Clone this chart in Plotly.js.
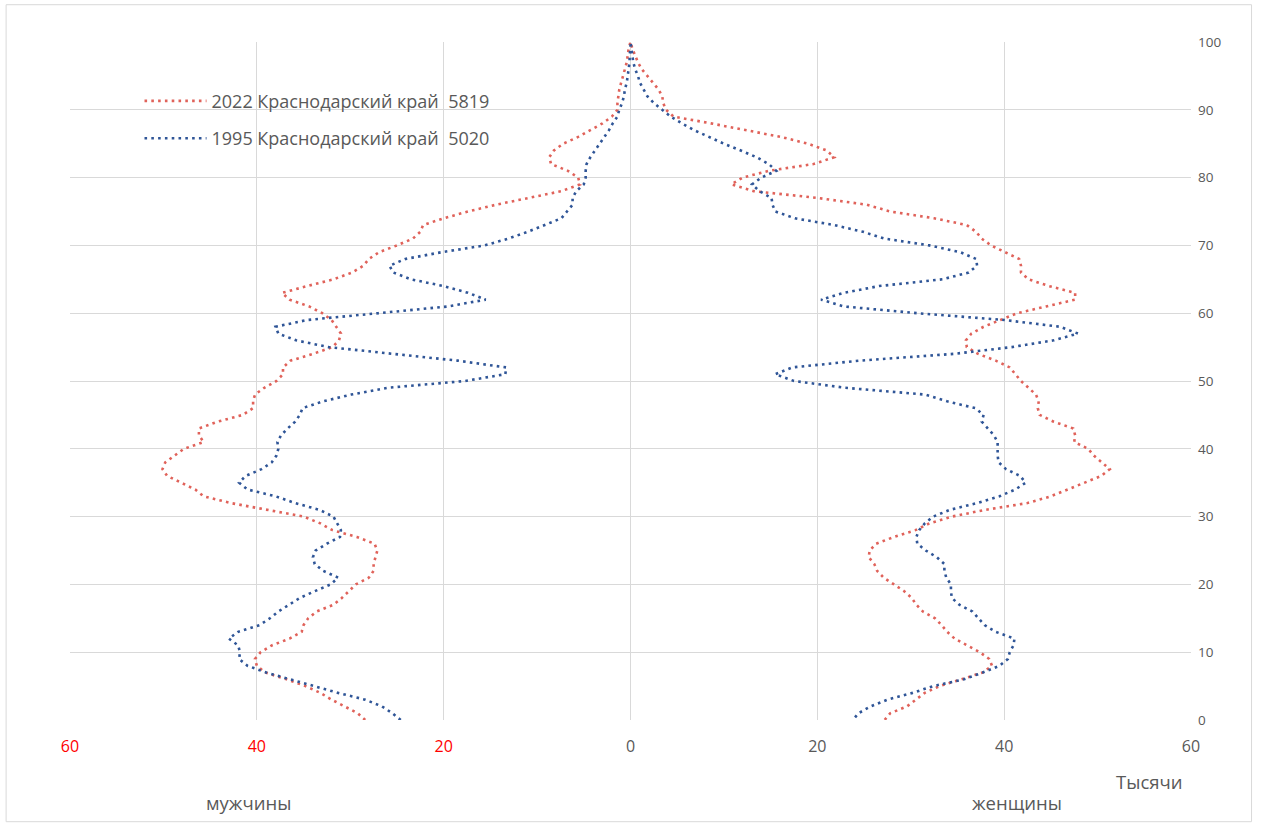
<!DOCTYPE html>
<html>
<head>
<meta charset="utf-8">
<script src="https://cdn.plot.ly/plotly-3.0.1.min.js"></script>
<style>
  html, body { margin: 0; padding: 0; background: #ffffff; }
  #chart { width: 1266px; height: 827px; }
</style>
</head>
<body>
<div id="chart"></div>
<script>
// Ages 0..100
const ages = [];
for (let a = 0; a <= 100; a++) ages.push(a);

// Population, thousands
const male2022 = [28.4,29.2,30.6,32.0,33.2,34.8,36.8,39.1,40.0,40.2,
  39.6,38.4,36.5,35.2,35.0,34.5,33.6,31.8,30.9,30.1,
  29.4,28.0,27.5,27.5,27.3,27.1,27.4,29.3,31.9,33.2,
  35.0,38.7,42.8,45.7,46.6,48.1,49.6,50.1,49.8,48.8,
  47.8,45.7,46.2,46.2,44.2,41.5,40.4,40.4,40.2,39.2,
  37.9,37.2,37.2,36.4,34.0,31.9,31.2,31.0,31.5,32.0,
  33.0,34.4,36.5,37.3,34.6,31.8,29.8,28.6,28.0,26.9,
  25.0,23.3,22.5,22.2,20.0,17.4,14.4,10.9,7.4,5.4,
  5.6,6.7,8.5,8.7,8.2,7.2,5.6,4.3,3.0,2.0,
  1.4,1.4,1.3,1.2,1.0,0.8,0.6,0.4,0.3,0.2,0.0];

const female2022 = [27.2,27.8,29.6,30.5,31.5,33.1,35.5,37.7,38.7,38.4,
  37.4,36.1,34.7,33.9,33.3,32.6,31.3,30.6,30.1,29.3,
  28.2,27.1,26.4,26.1,25.5,25.6,26.3,28.2,30.5,32.0,
  34.4,38.0,42.5,45.0,46.8,48.6,50.4,51.3,50.5,49.6,
  49.0,47.5,47.6,47.4,45.3,43.8,43.6,43.7,43.4,42.6,
  41.8,41.2,40.6,39.1,37.2,36.0,35.9,36.5,37.8,39.6,
  41.4,44.5,47.6,47.6,44.8,42.6,41.8,41.8,41.6,40.1,
  38.6,37.6,37.0,36.0,32.5,27.8,25.3,20.0,13.2,10.8,
  12.0,14.8,19.6,21.8,21.0,19.0,16.1,12.5,8.6,4.6,
  3.8,3.5,3.4,3.0,2.4,1.8,1.2,0.8,0.5,0.2,0.0];

const male1995 = [24.6,25.5,26.6,28.4,31.3,33.8,36.4,39.0,41.0,41.9,
  41.8,42.0,43.0,42.0,39.7,38.6,37.7,36.6,35.4,33.8,
  32.1,31.3,32.9,33.8,34.0,33.7,32.5,31.1,31.0,31.4,
  31.8,33.3,35.9,38.0,41.0,41.9,41.2,39.5,38.4,37.9,
  37.7,37.8,37.4,36.7,35.9,35.4,35.1,32.9,29.9,26.0,
  17.7,13.4,13.3,18.5,25.8,32.3,35.8,37.7,38.0,34.6,
  27.0,19.5,15.5,17.4,20.0,23.5,25.4,25.8,24.1,20.2,
  15.6,13.1,11.0,9.1,7.4,6.8,6.2,6.2,5.8,5.0,
  4.8,4.8,4.7,4.3,3.8,3.3,2.8,2.3,1.9,1.4,
  1.2,0.9,0.7,0.6,0.4,0.3,0.2,0.1,0.1,0.0,0.0];

const female1995 = [23.8,24.4,25.7,27.5,30.2,32.4,35.7,37.7,39.5,40.4,
  40.6,41.0,41.1,39.1,37.9,37.3,36.6,35.2,34.4,34.3,
  34.3,33.8,33.6,33.6,32.8,31.6,30.7,30.6,30.9,31.5,
  32.4,34.2,37.1,39.5,41.2,42.3,41.7,40.2,39.4,39.3,
  39.3,39.3,38.9,38.3,37.6,37.8,36.9,33.9,31.5,23.0,
  17.5,15.5,17.3,24.5,34.6,40.8,45.3,47.9,46.0,40.0,
  30.7,22.8,20.4,22.8,26.6,33.4,36.2,37.1,37.0,35.3,
  32.0,27.2,24.9,21.8,17.6,15.5,15.2,15.1,13.8,13.0,
  14.0,15.6,14.8,13.5,11.8,10.0,8.4,6.8,5.5,4.3,
  3.4,2.5,1.8,1.4,1.0,0.8,0.5,0.3,0.2,0.1,0.0];

const seriesNames = ["2022 Краснодарский край\u00a0 5819", "1995 Краснодарский край\u00a0 5020"];
const xTickVals = [-60, -40, -20, 0, 20, 40, 60];
const xTickText = ['<span style="color:#FF0000">60</span>', '<span style="color:#FF0000">40</span>',
  '<span style="color:#FF0000">20</span>', '0', '20', '40', '60'];
const yTickVals = [0, 10, 20, 30, 40, 50, 60, 70, 80, 90, 100];

function pyramidX(male, female) {
  return male.map(v => -v).concat(female.slice().reverse());
}
function pyramidY() {
  return ages.concat(ages.slice().reverse());
}

const FONT = "'Open Sans', 'Noto Sans', sans-serif";
const GREY = '#595959';

const traces = [
  {
    x: pyramidX(male2022, female2022), y: pyramidY(),
    type: 'scatter', mode: 'lines', name: seriesNames[0], legendgroup: 'g1',
    line: { color: '#E0625A', width: 2.6, dash: '2.6px,4.2px' },
    hoverinfo: 'x+y'
  },
  {
    x: pyramidX(male1995, female1995), y: pyramidY(),
    type: 'scatter', mode: 'lines', name: seriesNames[1], legendgroup: 'g2',
    line: { color: '#2F5597', width: 2.6, dash: '2.6px,4.2px' },
    hoverinfo: 'x+y'
  }
];

const layout = {
  width: 1266, height: 827,
  margin: { l: 70, r: 75, t: 42, b: 107 },
  paper_bgcolor: '#ffffff', plot_bgcolor: '#ffffff',
  font: { family: FONT, color: GREY, size: 14 },
  showlegend: true,
  legend: {
    x: 0.062, y: 0.94, xanchor: 'left', yanchor: 'top',
    bgcolor: 'rgba(0,0,0,0)', font: { family: FONT, size: 18, color: GREY },
    traceorder: 'grouped', tracegroupgap: 11, itemwidth: 62
  },
  xaxis: {
    range: [-60, 60], tickmode: 'array', tickvals: xTickVals, ticktext: xTickText,
    showgrid: true, gridcolor: '#D9D9D9', gridwidth: 1,
    zeroline: false, showline: false, ticks: '',
    tickfont: { family: FONT, size: 16, color: GREY },
    ticklabelstandoff: 15, fixedrange: true
  },
  yaxis: {
    range: [0, 100], side: 'right', tickmode: 'array', tickvals: yTickVals,
    showgrid: true, gridcolor: '#D9D9D9', gridwidth: 1,
    zeroline: false, showline: false, ticks: '',
    tickfont: { family: FONT, size: 13.5, color: GREY },
    ticklabelstandoff: 6, fixedrange: true
  },
  shapes: [
    { type: 'rect', xref: 'paper', yref: 'paper', x0: -0.057, x1: 1.054, y0: -0.150, y1: 1.055,
      line: { color: '#D9D9D9', width: 1 }, fillcolor: 'rgba(0,0,0,0)', layer: 'below' }
  ],
  annotations: [
    { text: 'мужчины', xref: 'paper', yref: 'paper', x: 0.159, y: -0.122, showarrow: false,
      font: { family: FONT, size: 18.5, color: GREY }, xanchor: 'center', yanchor: 'middle' },
    { text: 'женщины', xref: 'paper', yref: 'paper', x: 0.845, y: -0.122, showarrow: false,
      font: { family: FONT, size: 18.5, color: GREY }, xanchor: 'center', yanchor: 'middle' },
    { text: 'Тысячи', xref: 'paper', yref: 'paper', x: 0.963, y: -0.090, showarrow: false,
      font: { family: FONT, size: 18.5, color: GREY }, xanchor: 'center', yanchor: 'middle' }
  ]
};

Plotly.newPlot('chart', traces, layout, { displayModeBar: false, staticPlot: true });
</script>
</body>
</html>
